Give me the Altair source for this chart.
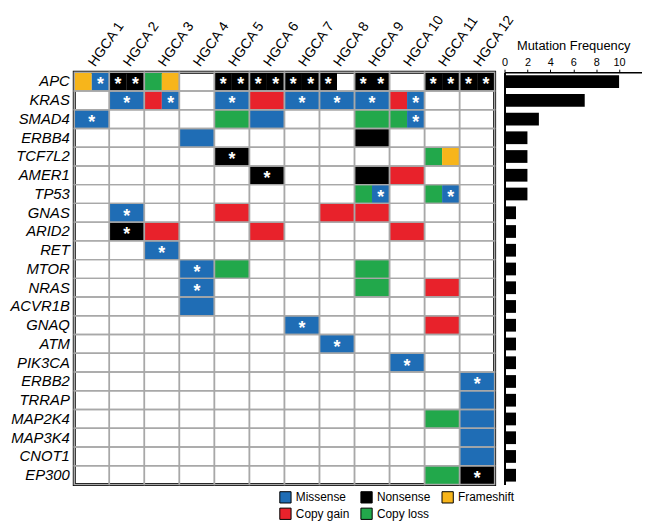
import altair as alt
import pandas as pd

genes = ["APC", "KRAS", "SMAD4", "ERBB4", "TCF7L2", "AMER1", "TP53", "GNAS", "ARID2",
         "RET", "MTOR", "NRAS", "ACVR1B", "GNAQ", "ATM", "PIK3CA", "ERBB2", "TRRAP",
         "MAP2K4", "MAP3K4", "CNOT1", "EP300"]
samples = ["HGCA 1", "HGCA 2", "HGCA 3", "HGCA 4", "HGCA 5", "HGCA 6",
           "HGCA 7", "HGCA 8", "HGCA 9", "HGCA 10", "HGCA 11", "HGCA 12"]
mutation_frequency = [10, 7, 3, 2, 2, 2, 2, 1, 1, 1, 1, 1, 1, 1, 1, 1, 1, 1, 1, 1, 1, 1]

# M=Missense N=Nonsense F=Frameshift G=Copy gain L=Copy loss, *=starred, "|" splits a cell
calls = {
    "APC":    ["F|M*", "N*|N*", "L|F", "", "N*|N*", "N*|N*", "N*|N*", "N*|", "N*|N*", "", "N*|N*", "N*|N*"],
    "KRAS":   ["", "M*", "G|M*", "", "M*", "G", "M*", "M*", "M*", "G|M*", "", ""],
    "SMAD4":  ["M*", "", "", "", "L", "M", "", "", "L", "L|M*", "", ""],
    "ERBB4":  ["", "", "", "M", "", "", "", "", "N", "", "", ""],
    "TCF7L2": ["", "", "", "", "N*", "", "", "", "", "", "L|F", ""],
    "AMER1":  ["", "", "", "", "", "N*", "", "", "N", "G", "", ""],
    "TP53":   ["", "", "", "", "", "", "", "", "L|M*", "", "L|M*", ""],
    "GNAS":   ["", "M*", "", "", "G", "", "", "G", "G", "", "", ""],
    "ARID2":  ["", "N*", "G", "", "", "G", "", "", "", "G", "", ""],
    "RET":    ["", "", "M*", "", "", "", "", "", "", "", "", ""],
    "MTOR":   ["", "", "", "M*", "L", "", "", "", "L", "", "", ""],
    "NRAS":   ["", "", "", "M*", "", "", "", "", "L", "", "G", ""],
    "ACVR1B": ["", "", "", "M", "", "", "", "", "", "", "", ""],
    "GNAQ":   ["", "", "", "", "", "", "M*", "", "", "", "G", ""],
    "ATM":    ["", "", "", "", "", "", "", "M*", "", "", "", ""],
    "PIK3CA": ["", "", "", "", "", "", "", "", "", "M*", "", ""],
    "ERBB2":  ["", "", "", "", "", "", "", "", "", "", "", "M*"],
    "TRRAP":  ["", "", "", "", "", "", "", "", "", "", "", "M"],
    "MAP2K4": ["", "", "", "", "", "", "", "", "", "", "L", "M"],
    "MAP3K4": ["", "", "", "", "", "", "", "", "", "", "", "M"],
    "CNOT1":  ["", "", "", "", "", "", "", "", "", "", "", "M"],
    "EP300":  ["", "", "", "", "", "", "", "", "", "", "L", "N*"],
}
type_names = {"M": "Missense", "N": "Nonsense", "F": "Frameshift", "G": "Copy gain", "L": "Copy loss"}
# legend fills column by column (2 rows): row 1 Missense/Nonsense/Frameshift, row 2 Copy gain/Copy loss
legend_order = ["Missense", "Copy gain", "Nonsense", "Copy loss", "Frameshift"]
legend_colors = ["#1f6db5", "#e8222b", "#000000", "#22a84b", "#f7b51b"]

cells, parts = [], []
for g in genes:
    for i, code in enumerate(calls[g]):
        cells.append({"gene": g, "x0": i, "x1": i + 1})
        if not code:
            continue
        ps = code.split("|")
        n = len(ps)
        for j, p in enumerate(ps):
            if not p:
                continue
            parts.append({"gene": g, "x0": i + j / n, "x1": i + (j + 1) / n,
                          "xm": i + (j + 0.5) / n, "type": type_names[p[0]],
                          "star": "*" if p.endswith("*") else ""})
cells_df = pd.DataFrame(cells)
parts_df = pd.DataFrame(parts)
samples_df = pd.DataFrame({"sample": samples, "xm": [i + 0.5 for i in range(len(samples))]})
freq_df = pd.DataFrame({"gene": genes, "freq": mutation_frequency})

FONT = "Liberation Sans"
W, H = 425, 417

xscale = alt.Scale(domain=[0, len(samples)], nice=False, zero=False)
yscale = alt.Scale(domain=genes, paddingInner=0, paddingOuter=0)
yaxis = alt.Axis(title=None, labelFontStyle="italic", labelFontSize=15, labelFont=FONT,
                 labelColor="black", ticks=False, domain=False, grid=False, labelPadding=5)

X = alt.X("x0:Q", scale=xscale, axis=None)
Y = alt.Y("gene:N", sort=genes, scale=yscale, axis=yaxis)

colored = alt.Chart(parts_df).mark_rect().encode(
    x=X, x2="x1:Q", y=Y,
    color=alt.Color("type:N", scale=alt.Scale(domain=legend_order, range=legend_colors),
                    legend=alt.Legend(title=None, orient="none", legendX=207, legendY=423,
                                      columns=3, symbolType="square", symbolSize=130,
                                      symbolStrokeColor="black", symbolStrokeWidth=1,
                                      labelFontSize=12, labelFont=FONT, labelColor="black",
                                      columnPadding=8, rowPadding=0, labelOffset=4)),
)
grid = alt.Chart(cells_df).mark_rect(fillOpacity=0, stroke="#a8a8a8", strokeWidth=1.5).encode(
    x=X, x2="x1:Q", y=Y)
stars = alt.Chart(parts_df).transform_filter("datum.star == '*'").mark_text(
    color="white", fontSize=18, fontWeight="bold", font=FONT, dy=4).encode(
    x=alt.X("xm:Q", scale=xscale, axis=None), y=Y, text="star:N")
col_labels = alt.Chart(samples_df).mark_text(
    angle=305, align="left", baseline="middle", fontSize=14, font=FONT, color="black",
    dx=0).encode(
    x=alt.X("xm:Q", scale=xscale, axis=None), y=alt.value(-7), text="sample:N")

left = alt.layer(colored, grid, stars, col_labels).properties(
    width=W, height=H, view=alt.ViewBackground(stroke="black", strokeWidth=3, fill="white"))

bars = alt.Chart(freq_df).mark_bar(color="black").encode(
    x=alt.X("freq:Q", scale=alt.Scale(domain=[0, 12], nice=False),
            axis=alt.Axis(orient="top", values=[0, 2, 4, 6, 8, 10], title="Mutation Frequency",
                          titleFontSize=13, titleFontWeight="normal", titleFont=FONT,
                          titleColor="black", titlePadding=4,
                          labelFontSize=11, labelFont=FONT, labelColor="black",
                          domainColor="black", domainWidth=1.5, tickColor="black", tickSize=3,
                          grid=False, labelFlush=False)),
    y=alt.Y("gene:N", sort=genes, scale=alt.Scale(domain=genes, paddingInner=0.32, paddingOuter=0.16),
            axis=alt.Axis(labels=False, ticks=False, title=None, domainColor="black", domainWidth=2,
                          grid=False)),
).properties(width=139, height=H, view=alt.ViewBackground(strokeWidth=0))

chart = alt.hconcat(left, bars, spacing=10, bounds="flush").properties(
    padding={"left": 0, "top": 0, "right": 0, "bottom": 0}
).configure(font=FONT)

chart.save("out.html", embed_options={"renderer": "svg", "actions": False})
